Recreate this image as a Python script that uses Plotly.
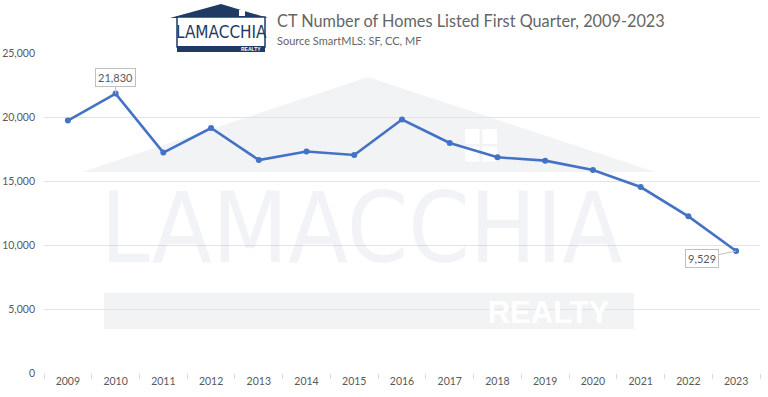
import plotly.graph_objects as go

years = list(range(2009, 2024))
listings = [19720, 21830, 17220, 19140, 16640, 17300, 17030, 19800, 17970, 16850, 16590, 15860, 14530, 12240, 9529]
y_ticks = [0, 5000, 10000, 15000, 20000, 25000]
title_text = "CT Number of Homes Listed First Quarter, 2009-2023"
subtitle_text = "Source SmartMLS: SF, CC, MF"

W, H = 768, 397
L, R, T, B = 44, 8, 53, 24
PW, PH = W - L - R, H - T - B


def px(x):
    return (x - L) / PW


def py(y):
    return (H - B - y) / PH


NAVY = "#1f3b63"
WM = "#f2f3f5"
FONT = "Lato, 'Noto Sans', sans-serif"
COND = "'DejaVu Sans Condensed', 'DejaVu Sans', sans-serif"

fig = go.Figure()

# watermark word (drawn as a trace, beneath the data line)
fig.add_trace(go.Scatter(
    x=[2015.15], y=[10600], mode="text", text=["LAMACCHIA"],
    textfont=dict(family=COND, size=98, color="rgba(190,196,208,0.2)"),
    hoverinfo="skip", showlegend=False, cliponaxis=False))
fig.add_trace(go.Scatter(
    x=[2019.07], y=[4550], mode="text", text=["<b>REALTY</b>"],
    textfont=dict(family="'Liberation Sans', Arial, sans-serif", size=31, color="white"),
    hoverinfo="skip", showlegend=False, cliponaxis=False))

fig.add_trace(go.Scatter(
    x=years, y=listings, mode="lines+markers",
    line=dict(color="#4472c4", width=2.6),
    marker=dict(color="#4472c4", size=6),
    hoverinfo="x+y", showlegend=False, cliponaxis=False))

shapes = []
# watermark roof
shapes.append(dict(type="path", xref="paper", yref="paper", layer="below",
                   path=f"M {px(82)} {py(172)} L {px(368)} {py(77)} L {px(655)} {py(172)} Z",
                   fillcolor=WM, line=dict(width=0)))
# watermark window panes
for (x0, y0) in [(465, 129), (482.5, 129), (465, 146.5), (482.5, 146.5)]:
    shapes.append(dict(type="rect", xref="paper", yref="paper", layer="below",
                       x0=px(x0), x1=px(x0 + 14.5), y0=py(y0), y1=py(y0 + 15),
                       fillcolor="white", line=dict(width=0)))
# watermark realty bar
shapes.append(dict(type="rect", xref="paper", yref="paper", layer="below",
                   x0=px(104), x1=px(634), y0=py(293), y1=py(329),
                   fillcolor=WM, line=dict(width=0)))

# header logo
shapes.append(dict(type="path", xref="paper", yref="paper", layer="above",
                   path=f"M {px(170)} {py(18)} L {px(221)} {py(4)} L {px(268)} {py(18)} Z",
                   fillcolor=NAVY, line=dict(width=0)))
shapes.append(dict(type="rect", xref="paper", yref="paper", layer="above",
                   x0=px(239), x1=px(245), y0=py(10), y1=py(16),
                   fillcolor="white", line=dict(width=0)))
shapes.append(dict(type="rect", xref="paper", yref="paper", layer="above",
                   x0=px(177), x1=px(265), y0=py(17), y1=py(47),
                   fillcolor="white", line=dict(color=NAVY, width=1.5)))
shapes.append(dict(type="rect", xref="paper", yref="paper", layer="above",
                   x0=px(177), x1=px(265), y0=py(46), y1=py(52),
                   fillcolor=NAVY, line=dict(width=0)))

annotations = [
    dict(xref="paper", yref="paper", x=px(221), y=py(32), text="LAMACCHIA",
         showarrow=False, xanchor="center", yanchor="middle",
         font=dict(family=COND, size=17, color=NAVY)),
    dict(xref="paper", yref="paper", x=px(263), y=py(49.2), text="<b>REALTY</b>",
         showarrow=False, xanchor="right", yanchor="middle",
         font=dict(family="'Liberation Sans', sans-serif", size=5, color="white")),
    dict(xref="paper", yref="paper", x=px(275), y=py(21), text=title_text,
         showarrow=False, xanchor="left", yanchor="middle",
         font=dict(family=FONT, size=16.3, color="#666666")),
    dict(xref="paper", yref="paper", x=px(275), y=py(40), text=subtitle_text,
         showarrow=False, xanchor="left", yanchor="middle",
         font=dict(family=FONT, size=11, color="#666666")),
    dict(x=years[1], y=listings[1], xref="x", yref="y", text=f"{listings[1]:,}",
         showarrow=True, arrowhead=0, arrowcolor="#bfbfbf", arrowwidth=1,
         ax=0, ay=-16, standoff=0, bgcolor="white", bordercolor="#bfbfbf",
         borderwidth=1, borderpad=2, font=dict(family=FONT, size=11, color="#595959")),
    dict(x=years[-1], y=listings[-1], xref="x", yref="y", text=f"{listings[-1]:,}",
         showarrow=True, arrowhead=0, arrowcolor="#bfbfbf", arrowwidth=1,
         ax=-34, ay=7, standoff=0, bgcolor="white", bordercolor="#bfbfbf",
         borderwidth=1, borderpad=2, font=dict(family=FONT, size=11, color="#595959")),
]

fig.update_layout(
    width=W, height=H,
    margin=dict(l=L, r=R, t=T, b=B, pad=0, autoexpand=False),
    paper_bgcolor="white", plot_bgcolor="white",
    shapes=shapes, annotations=annotations,
    font=dict(family=FONT, size=11, color="#595959"),
    showlegend=False,
)
fig.update_xaxes(
    range=[2008.5, 2023.5], tickvals=years, ticktext=[str(y) for y in years],
    showgrid=False, zeroline=False, showline=False, ticks="", ticklen=0,
    tickfont=dict(family=FONT, size=10.5, color="#595959"), automargin=False,
    minor=dict(tickvals=[y - 0.5 for y in years] + [2023.5], ticks="outside",
               ticklen=5, tickcolor="#d9d9d9", showgrid=False),
    fixedrange=True,
)
fig.update_yaxes(
    range=[0, 25000], tickvals=y_ticks, tickformat=",", automargin=False,
    showgrid=True, gridcolor="#e3e3e3", gridwidth=1, zeroline=False, showline=False,
    ticks="", tickfont=dict(family=FONT, size=10.5, color="#595959"),
    ticklabelstandoff=8, fixedrange=True,
)

fig.write_html(
    "out.html",
    config={"displayModeBar": False},
    post_script="document.body.style.margin='0';document.body.style.overflow='hidden';",
)
